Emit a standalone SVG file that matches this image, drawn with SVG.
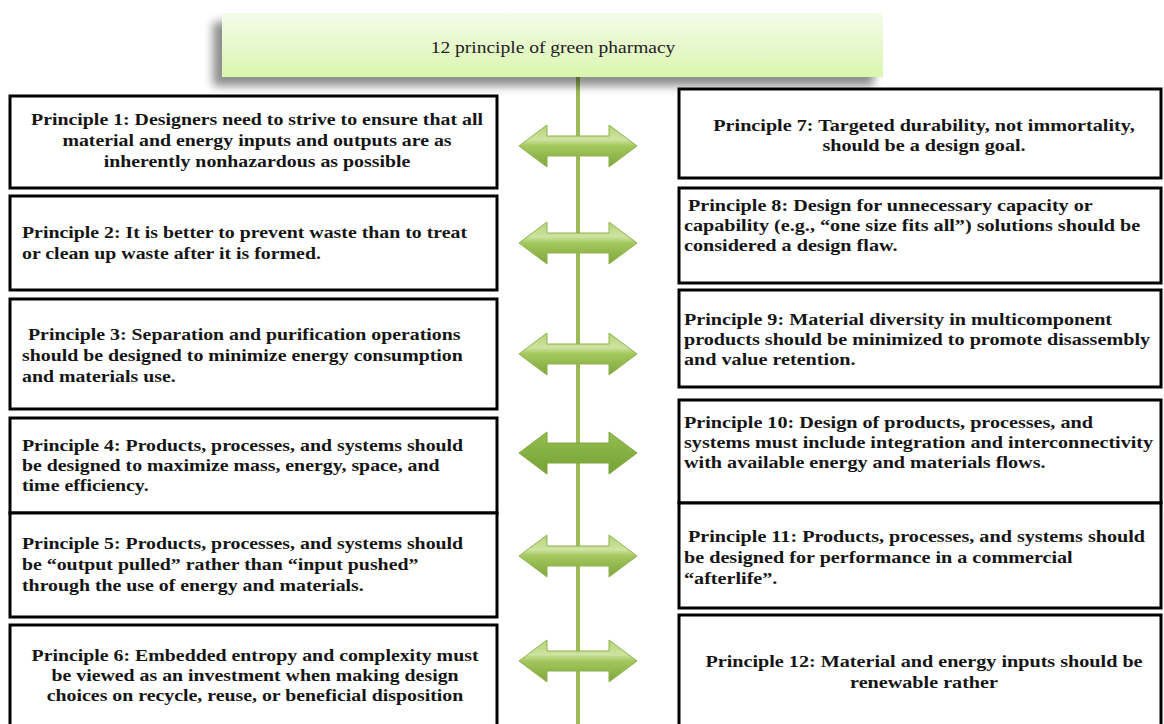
<svg xmlns="http://www.w3.org/2000/svg" width="1164" height="724" viewBox="0 0 1164 724">
<defs>
<linearGradient id="titleGrad" x1="0" y1="0" x2="0" y2="1">
<stop offset="0" stop-color="#f4fbeb"/>
<stop offset="1" stop-color="#daf6ae"/>
</linearGradient>
<linearGradient id="arrowGrad" x1="0" y1="0" x2="0" y2="1">
<stop offset="0" stop-color="#b5d276"/>
<stop offset="0.35" stop-color="#cde3a0"/>
<stop offset="0.5" stop-color="#a3c75c"/>
<stop offset="1" stop-color="#7ea63c"/>
</linearGradient>
<linearGradient id="arrowGradDark" x1="0" y1="0" x2="0" y2="1">
<stop offset="0" stop-color="#93be50"/>
<stop offset="1" stop-color="#76a236"/>
</linearGradient>
<filter id="shadow" x="-10%" y="-30%" width="120%" height="180%">
<feGaussianBlur in="SourceAlpha" stdDeviation="5"/>
<feOffset dx="-9" dy="9" result="b"/>
<feComponentTransfer><feFuncA type="linear" slope="0.45"/></feComponentTransfer>
<feMerge><feMergeNode/><feMergeNode in="SourceGraphic"/></feMerge>
</filter>
<path id="dbl" d="M-59,0 L-31,-21 L-31,-10 L31,-10 L31,-21 L59,0 L31,21 L31,10 L-31,10 L-31,21 Z"/>
</defs>
<style>
.box{fill:#ffffff;stroke:#000000;stroke-width:3}
.t{font-family:"Liberation Serif","Times New Roman",serif;font-weight:bold;font-size:16px;fill:#151515}
.c{text-anchor:middle}
.title{font-family:"Liberation Serif","Times New Roman",serif;font-size:16px;fill:#222222;text-anchor:middle}
.arr{fill:url(#arrowGrad);stroke:#8fb24f;stroke-width:1}
.arrd{fill:url(#arrowGradDark);stroke:#7ea63c;stroke-width:1}
</style>
<rect width="1164" height="724" fill="#ffffff"/>

<g id="connectors">
<line x1="578" y1="76" x2="578" y2="724" stroke="#9bbb59" stroke-width="4"/>
<use href="#dbl" class="arr" transform="translate(578,146)"/>
<use href="#dbl" class="arr" transform="translate(578,243)"/>
<use href="#dbl" class="arr" transform="translate(578,354)"/>
<use href="#dbl" class="arrd" transform="translate(578,453)"/>
<use href="#dbl" class="arr" transform="translate(578,556)"/>
<use href="#dbl" class="arr" transform="translate(578,661)"/>
</g>

<g id="title">
<rect x="222" y="13" width="661" height="64" fill="url(#titleGrad)" filter="url(#shadow)"/>
<text class="title" transform="matrix(1.22 0 0 1 553 53)">12 principle of green pharmacy</text>
</g>

<g id="p1">
<rect class="box" x="10" y="96" width="487" height="92"/>
<text class="t c" transform="matrix(1.24 0 0 1 257 125)">Principle 1: Designers need to strive to ensure that all</text>
<text class="t c" transform="matrix(1.24 0 0 1 257 146)">material and energy inputs and outputs are as</text>
<text class="t c" transform="matrix(1.24 0 0 1 257 167)">inherently nonhazardous as possible</text>
</g>
<g id="p2">
<rect class="box" x="10" y="196" width="487" height="94"/>
<text class="t" transform="matrix(1.24 0 0 1 22 238)">Principle 2: It is better to prevent waste than to treat</text>
<text class="t" transform="matrix(1.24 0 0 1 22 259)">or clean up waste after it is formed.</text>
</g>
<g id="p3">
<rect class="box" x="10" y="299" width="487" height="110"/>
<text class="t" transform="matrix(1.24 0 0 1 28 340)">Principle 3: Separation and purification operations</text>
<text class="t" transform="matrix(1.24 0 0 1 22 361)">should be designed to minimize energy consumption</text>
<text class="t" transform="matrix(1.24 0 0 1 22 382)">and materials use.</text>
</g>
<g id="p4">
<rect class="box" x="10" y="418" width="487" height="95"/>
<text class="t" transform="matrix(1.24 0 0 1 22 451)">Principle 4: Products, processes, and systems should</text>
<text class="t" transform="matrix(1.24 0 0 1 22 471)">be designed to maximize mass, energy, space, and</text>
<text class="t" transform="matrix(1.24 0 0 1 22 491)">time efficiency.</text>
</g>
<g id="p5">
<rect class="box" x="10" y="513" width="487" height="104"/>
<text class="t" transform="matrix(1.24 0 0 1 22 549)">Principle 5: Products, processes, and systems should</text>
<text class="t" transform="matrix(1.24 0 0 1 22 570)">be “output pulled” rather than “input pushed”</text>
<text class="t" transform="matrix(1.24 0 0 1 22 591)">through the use of energy and materials.</text>
</g>
<g id="p6">
<rect class="box" x="10" y="625" width="487" height="108"/>
<text class="t c" transform="matrix(1.24 0 0 1 255 661)">Principle 6: Embedded entropy and complexity must</text>
<text class="t c" transform="matrix(1.24 0 0 1 255 681)">be viewed as an investment when making design</text>
<text class="t c" transform="matrix(1.24 0 0 1 255 701)">choices on recycle, reuse, or beneficial disposition</text>
</g>

<g id="p7">
<rect class="box" x="679" y="89" width="482" height="89"/>
<text class="t c" transform="matrix(1.26 0 0 1 924 131)">Principle 7: Targeted durability, not immortality,</text>
<text class="t c" transform="matrix(1.26 0 0 1 924 151)">should be a design goal.</text>
</g>
<g id="p8">
<rect class="box" x="679" y="188" width="482" height="95"/>
<text class="t" transform="matrix(1.26 0 0 1 688 211)">Principle 8: Design for unnecessary capacity or</text>
<text class="t" transform="matrix(1.26 0 0 1 684 231)">capability (e.g., “one size fits all”) solutions should be</text>
<text class="t" transform="matrix(1.26 0 0 1 684 251)">considered a design flaw.</text>
</g>
<g id="p9">
<rect class="box" x="679" y="290" width="482" height="97"/>
<text class="t" transform="matrix(1.26 0 0 1 684 325)">Principle 9: Material diversity in multicomponent</text>
<text class="t" transform="matrix(1.26 0 0 1 684 345)">products should be minimized to promote disassembly</text>
<text class="t" transform="matrix(1.26 0 0 1 684 365)">and value retention.</text>
</g>
<g id="p10">
<rect class="box" x="679" y="400" width="482" height="103"/>
<text class="t" transform="matrix(1.26 0 0 1 684 428)">Principle 10: Design of products, processes, and</text>
<text class="t" transform="matrix(1.26 0 0 1 684 448)">systems must include integration and interconnectivity</text>
<text class="t" transform="matrix(1.26 0 0 1 684 468)">with available energy and materials flows.</text>
</g>
<g id="p11">
<rect class="box" x="679" y="503" width="482" height="105"/>
<text class="t" transform="matrix(1.26 0 0 1 688 542)">Principle 11: Products, processes, and systems should</text>
<text class="t" transform="matrix(1.26 0 0 1 684 563)">be designed for performance in a commercial</text>
<text class="t" transform="matrix(1.26 0 0 1 684 584)">“afterlife”.</text>
</g>
<g id="p12">
<rect class="box" x="679" y="615" width="482" height="118"/>
<text class="t c" transform="matrix(1.26 0 0 1 924 667)">Principle 12: Material and energy inputs should be</text>
<text class="t c" transform="matrix(1.26 0 0 1 924 688)">renewable rather</text>
</g>
</svg>
